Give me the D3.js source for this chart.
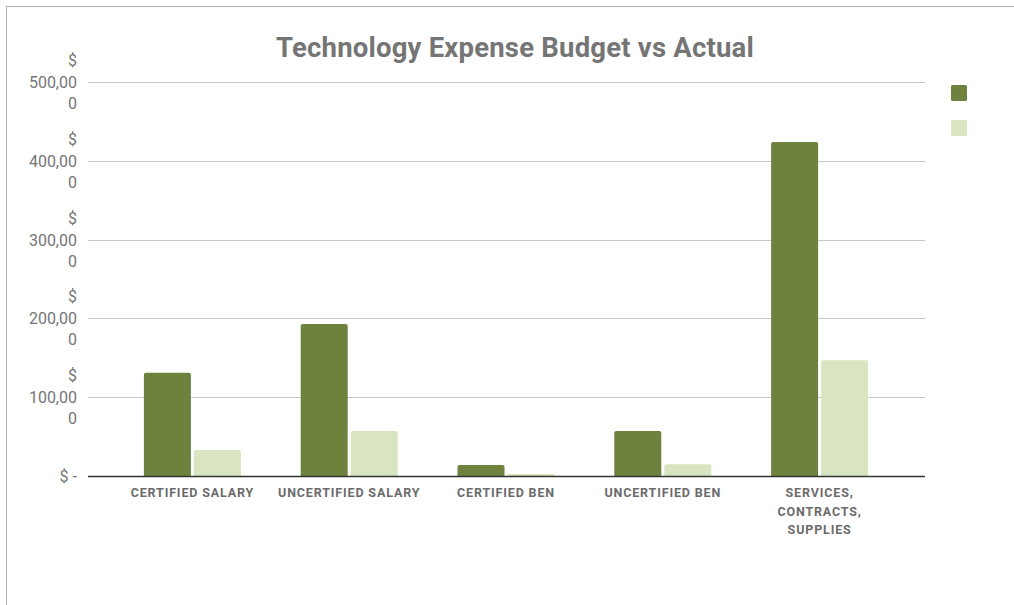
<!DOCTYPE html>
<html>
<head>
<meta charset="utf-8">
<script src="https://cdn.jsdelivr.net/npm/d3@7"></script>
<style>
  body { margin: 0; background: #fff; }
  text { font-family: Roboto, "Liberation Sans", sans-serif; }
</style>
</head>
<body>
<script>
// data
const categories = ["CERTIFIED SALARY", "UNCERTIFIED SALARY", "CERTIFIED BEN", "UNCERTIFIED BEN", "SERVICES, CONTRACTS, SUPPLIES"];
const seriesNames = ["Budget", "Actual"];
const budget = [131000, 193000, 14000, 57000, 424000];
const actual = [33000, 57000, 2500, 15000, 147000];
const yTicks = [0, 100000, 200000, 300000, 400000, 500000];

const colors = ["#6e823e", "#d9e5c0"];

const svg = d3.select("body").append("svg")
  .attr("width", 1014)
  .attr("height", 605);

// outer frame (only top and left visible)
svg.append("rect")
  .attr("x", 6.5).attr("y", 6.5)
  .attr("width", 1020).attr("height", 620)
  .attr("fill", "none")
  .attr("stroke", "#b0b0b0");

const plotLeft = 88, plotRight = 925;
const yScale = d3.scaleLinear().domain([0, 500000]).range([476, 82]);
const x0 = d3.scaleBand().domain(categories).range([114, 898]).padding(0);
const groupW = 97;
const x1 = d3.scaleBand().domain(seriesNames).range([0, groupW]).paddingInner(0.06);

svg.append("text")
  .attr("x", 515)
  .attr("y", 57)
  .attr("text-anchor", "middle")
  .attr("font-size", "27.5px")
  .attr("font-weight", "bold")
  .attr("letter-spacing", "0.2px")
  .attr("fill", "#757575")
  .text("Technology Expense Budget vs Actual");

// gridlines
svg.append("g").selectAll("line")
  .data(yTicks.filter(d => d > 0))
  .enter().append("line")
  .attr("x1", plotLeft).attr("x2", plotRight)
  .attr("y1", d => Math.round(yScale(d)) + 0.5)
  .attr("y2", d => Math.round(yScale(d)) + 0.5)
  .attr("stroke", "#c8c8c8")
  .attr("stroke-width", 1);

// y labels wrapped like the original
const fmt = d3.format(",");
const yl = svg.append("g").selectAll("text")
  .data(yTicks)
  .enter().append("text")
  .attr("text-anchor", "end")
  .attr("font-size", "16px")
  .attr("fill", "#757575");
yl.each(function (d) {
  const t = d3.select(this);
  const y = yScale(d);
  if (d === 0) {
    t.append("tspan").attr("x", 77).attr("y", y + 6).text("$ -");
  } else {
    const s = fmt(d);
    t.append("tspan").attr("x", 77).attr("y", y - 16).text("$");
    t.append("tspan").attr("x", 77).attr("y", y + 6).text(s.slice(0, -1));
    t.append("tspan").attr("x", 77).attr("y", y + 27).text(s.slice(-1));
  }
});

// bars
const rows = categories.map((c, i) => ({ cat: c, vals: [budget[i], actual[i]] }));
const groups = svg.append("g").selectAll("g")
  .data(rows)
  .enter().append("g")
  .attr("transform", d => "translate(" + (x0(d.cat) + (x0.bandwidth() - groupW) / 2) + ",0)");

groups.selectAll("path")
  .data(d => d.vals.map((v, j) => ({ s: seriesNames[j], v: v, j: j })))
  .enter().append("path")
  .attr("fill", d => colors[d.j])
  .attr("d", d => {
    const x = x1(d.s), w = x1.bandwidth();
    const y = yScale(d.v), h = yScale(0) - y;
    const r = Math.min(2, h / 2);
    return "M" + x + "," + (y + h) + "V" + (y + r) + "Q" + x + "," + y + " " + (x + r) + "," + y +
      "H" + (x + w - r) + "Q" + (x + w) + "," + y + " " + (x + w) + "," + (y + r) + "V" + (y + h) + "Z";
  });

// baseline
svg.append("line")
  .attr("x1", plotLeft).attr("x2", plotRight)
  .attr("y1", 476.5).attr("y2", 476.5)
  .attr("stroke", "#333")
  .attr("stroke-width", 1.3);

// x labels
const xl = svg.append("g").selectAll("text")
  .data(categories)
  .enter().append("text")
  .attr("text-anchor", "middle")
  .attr("font-size", "12.5px")
  .attr("font-weight", "bold")
  .attr("letter-spacing", "0.85px")
  .attr("fill", "#6b6b6b");
xl.each(function (d) {
  const t = d3.select(this);
  const cx = x0(d) + x0.bandwidth() / 2;
  const lines = d.length > 20 ? d.split(" ") : [d];
  lines.forEach((l, i) => {
    t.append("tspan").attr("x", cx).attr("y", 497 + i * 18.5).text(l);
  });
});

// legend squares (no labels in the original)
svg.append("g").selectAll("rect")
  .data(seriesNames)
  .enter().append("rect")
  .attr("x", 951)
  .attr("y", (d, i) => 85 + i * 35)
  .attr("width", 16).attr("height", 16)
  .attr("rx", 1.5)
  .attr("fill", (d, i) => colors[i]);
</script>
</body>
</html>
